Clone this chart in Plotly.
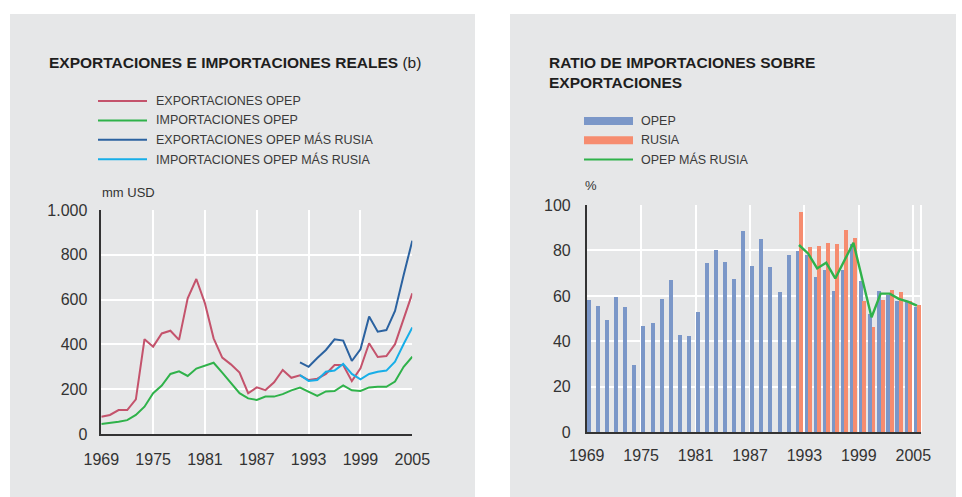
import plotly.graph_objects as go

W, H = 962, 497

# ---------------- data ----------------
years = list(range(1969, 2006))
years_r = list(range(1992, 2006))

export_opep = [77, 85, 107, 107, 155, 423, 390, 449, 461, 420, 606, 692, 583, 427, 341,
               311, 274, 182, 208, 196, 231, 286, 251, 262, 241, 247, 268, 308, 308, 236,
               293, 405, 344, 348, 401, 516, 628]
import_opep = [45, 49, 55, 62, 85, 122, 182, 216, 268, 280, 259, 292, 305, 318, 274,
               229, 182, 159, 152, 167, 167, 178, 195, 207, 188, 170, 190, 192, 217, 195,
               192, 208, 211, 211, 234, 300, 345]
export_opep_rusia = [320, 300, 339, 375, 423, 417, 326, 378, 524, 457, 464, 549, 710, 863]
import_opep_rusia = [263, 237, 241, 278, 283, 313, 268, 244, 268, 278, 283, 323, 402, 476]

ratio_opep = [58.2, 55.6, 49.4, 59.5, 55.1, 29.6, 46.8, 48.1, 58.7, 67.0, 42.8, 42.4, 52.9,
              74.5, 80.2, 74.9, 67.4, 88.6, 73.2, 85.0, 72.7, 61.7, 78.0, 79.8, 78.0, 68.3,
              71.4, 62.2, 71.4, 82.8, 66.6, 52.1, 62.2, 60.4, 57.8, 57.5, 55.1]
ratio_rusia = [96.9, 81.5, 82.0, 83.3, 82.8, 89.0, 85.5, 57.8, 46.3, 58.2, 62.6, 61.7, 57.8, 56.0]
ratio_opep_rusia = [82.4, 78.7, 72.1, 74.6, 67.7, 75.5, 83.4, 67.0, 50.6, 61.0, 61.0, 58.7, 57.5, 55.7]

x_ticks = [1969, 1975, 1981, 1987, 1993, 1999, 2005]
left_y_ticks = [0, 200, 400, 600, 800, 1000]
left_y_text = ["0", "200", "400", "600", "800", "1.000"]
right_y_ticks = [0, 20, 40, 60, 80, 100]

left_legend = ["EXPORTACIONES OPEP", "IMPORTACIONES OPEP",
               "EXPORTACIONES OPEP MÁS RUSIA", "IMPORTACIONES OPEP MÁS RUSIA"]
right_legend = ["OPEP", "RUSIA", "OPEP MÁS RUSIA"]

# ---------------- styles ----------------
C_RED = "#c4536c"
C_GREEN = "#2fb24a"
C_DBLUE = "#2b62a0"
C_LBLUE = "#17aee8"
C_OPEP = "#7b97c8"
C_RUSIA = "#f68c6f"
PANEL = "#e6e7e8"
TXT = "#333333"
FONT = "Liberation Sans, Arial, sans-serif"


def px(x):
    return x / W


def py(y):
    return 1 - y / H


fig = go.Figure()

fig.add_trace(go.Scatter(x=years, y=export_opep, mode="lines", line=dict(color=C_RED, width=2),
                         xaxis="x", yaxis="y", showlegend=False))
fig.add_trace(go.Scatter(x=years, y=import_opep, mode="lines", line=dict(color=C_GREEN, width=2),
                         xaxis="x", yaxis="y", showlegend=False))
fig.add_trace(go.Scatter(x=years_r, y=export_opep_rusia, mode="lines", line=dict(color=C_DBLUE, width=2),
                         xaxis="x", yaxis="y", showlegend=False))
fig.add_trace(go.Scatter(x=years_r, y=import_opep_rusia, mode="lines", line=dict(color=C_LBLUE, width=2),
                         xaxis="x", yaxis="y", showlegend=False))

fig.add_trace(go.Bar(x=years, y=ratio_opep, width=0.44, offset=0, marker=dict(color=C_OPEP, line=dict(width=0)),
                     xaxis="x2", yaxis="y2", showlegend=False))
fig.add_trace(go.Bar(x=years_r, y=ratio_rusia, width=0.44, offset=0.36, marker=dict(color=C_RUSIA, line=dict(width=0)),
                     xaxis="x2", yaxis="y2", showlegend=False))
fig.add_trace(go.Scatter(x=[y + 0.4 for y in years_r], y=ratio_opep_rusia, mode="lines",
                         line=dict(color=C_GREEN, width=2.4), xaxis="x2", yaxis="y2", showlegend=False))

axis_common = dict(showgrid=True, gridcolor="white", gridwidth=2, zeroline=False,
                   showline=True, linecolor="#333333", linewidth=1.5, automargin=False,
                   ticks="outside", tickcolor="rgba(0,0,0,0)",
                   tickfont=dict(family=FONT, size=16, color=TXT))

fig.update_layout(
    template="none",
    width=W, height=H, margin=dict(l=0, r=0, t=0, b=0, pad=0, autoexpand=False),
    paper_bgcolor="white", plot_bgcolor=PANEL, barmode="overlay", bargap=0,
    font=dict(family=FONT, color=TXT), showlegend=False,
    xaxis=dict(domain=[px(101.3), px(412.3)], range=[1969, 2005], tickvals=x_ticks,
               anchor="y", ticklen=10, **axis_common),
    yaxis=dict(domain=[py(434), py(210)], range=[0, 1000], tickvals=left_y_ticks,
               ticktext=left_y_text, anchor="x", ticklen=9, **axis_common),
    xaxis2=dict(domain=[px(586.7), px(921)], range=[1969, 2005.85], tickvals=x_ticks,
                anchor="y2", ticklen=8, **axis_common),
    yaxis2=dict(domain=[py(432.3), py(205)], range=[0, 100], tickvals=right_y_ticks,
                anchor="x2", ticklen=11, **axis_common),
)

shapes = [
    dict(type="rect", xref="paper", yref="paper", x0=px(10), x1=px(475), y0=0, y1=py(14),
         fillcolor=PANEL, line=dict(width=0), layer="below"),
    dict(type="rect", xref="paper", yref="paper", x0=px(510), x1=px(956), y0=0, y1=py(14),
         fillcolor=PANEL, line=dict(width=0), layer="below"),
    dict(type="line", xref="x2 domain", yref="y2 domain", x0=1, x1=1, y0=0, y1=1,
         line=dict(color="white", width=2), layer="below"),
]

TITLE_FONT = dict(family=FONT, size=15.5, color="#1e1e1e")
annotations = []
annotations.append(dict(x=px(47), y=py(62), xref="paper", yref="paper", xanchor="left", yanchor="middle",
                        text="<b>EXPORTACIONES E IMPORTACIONES REALES</b> (b)", showarrow=False,
                        font=TITLE_FONT))
annotations.append(dict(x=px(547), y=py(62), xref="paper", yref="paper", xanchor="left", yanchor="middle",
                        text="<b>RATIO DE IMPORTACIONES SOBRE</b>", showarrow=False, font=TITLE_FONT))
annotations.append(dict(x=px(547), y=py(83), xref="paper", yref="paper", xanchor="left", yanchor="middle",
                        text="<b>EXPORTACIONES</b>", showarrow=False, font=TITLE_FONT))
annotations.append(dict(x=px(100), y=py(192), xref="paper", yref="paper", xanchor="left", yanchor="middle",
                        text="mm USD", showarrow=False, font=dict(family=FONT, size=13, color=TXT)))
annotations.append(dict(x=px(583), y=py(185), xref="paper", yref="paper", xanchor="left", yanchor="middle",
                        text="%", showarrow=False, font=dict(family=FONT, size=13, color=TXT)))

LEG_FONT = dict(family=FONT, size=12.5, color="#3a3a3a")
left_colors = [C_RED, C_GREEN, C_DBLUE, C_LBLUE]
for i, (lab, col) in enumerate(zip(left_legend, left_colors)):
    yy = 101 + i * 19.4
    shapes.append(dict(type="line", xref="paper", yref="paper", x0=px(98), x1=px(147),
                       y0=py(yy), y1=py(yy), line=dict(color=col, width=2)))
    annotations.append(dict(x=px(154), y=py(yy), xref="paper", yref="paper", xanchor="left",
                            yanchor="middle", text=lab, showarrow=False, font=LEG_FONT))

for i, lab in enumerate(right_legend):
    yy = 121 + i * 19.2
    if i < 2:
        shapes.append(dict(type="rect", xref="paper", yref="paper", x0=px(584), x1=px(633),
                           y0=py(yy + 4), y1=py(yy - 4), fillcolor=[C_OPEP, C_RUSIA][i], line=dict(width=0)))
    else:
        shapes.append(dict(type="line", xref="paper", yref="paper", x0=px(584), x1=px(633),
                           y0=py(yy), y1=py(yy), line=dict(color=C_GREEN, width=2)))
    annotations.append(dict(x=px(639), y=py(yy), xref="paper", yref="paper", xanchor="left",
                            yanchor="middle", text=lab, showarrow=False, font=LEG_FONT))

fig.update_layout(shapes=shapes, annotations=annotations)
fig.write_html("out.html", config={"displayModeBar": False},
               post_script="document.body.style.margin='0';document.body.style.overflow='hidden';")
